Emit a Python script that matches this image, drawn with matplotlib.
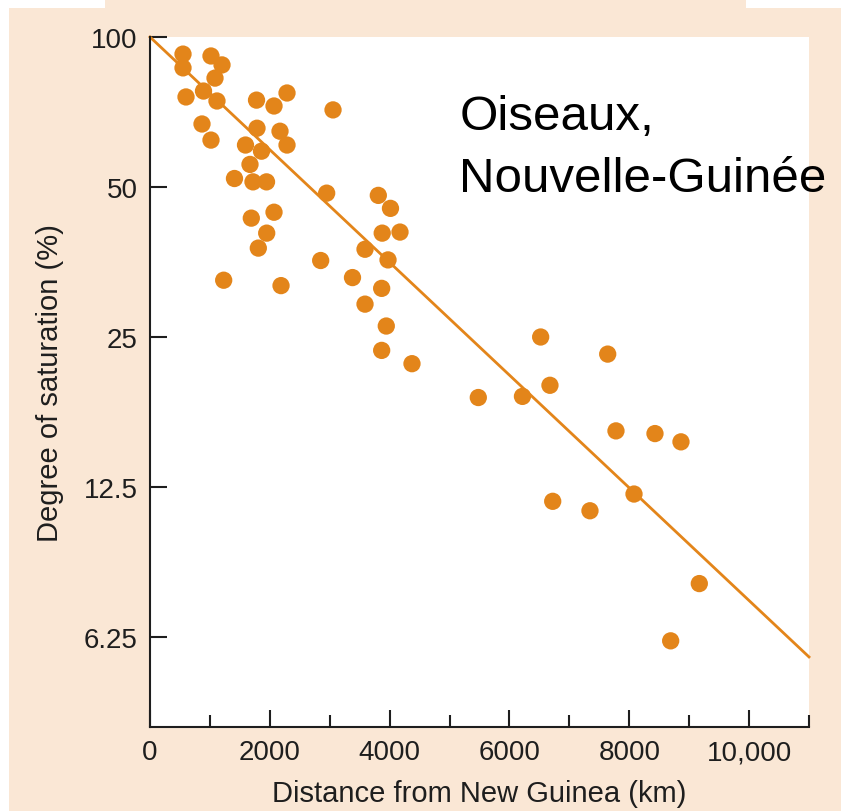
import numpy as np
import matplotlib
matplotlib.use('Agg')
import matplotlib.pyplot as plt
from matplotlib.patches import Rectangle
from matplotlib.ticker import FixedLocator, NullLocator

plt.rcParams['font.family'] = ['Liberation Sans', 'DejaVu Sans']

# distance from New Guinea (km) and degree of saturation (%) for each island
distance = [551, 551, 1018, 1202, 1085, 893, 601, 1118, 1778, 2070,
            2287, 3055, 868, 1018, 1786, 2170, 2287, 1594, 1861, 1669,
            1410, 1719, 1945, 2949, 3811, 4014, 2070, 1691, 1948, 3876,
            4173, 1808, 3589, 3973, 2849, 1230, 2187, 3380, 3867, 3589,
            3944, 3867, 4373, 6521, 7640, 6676, 5480, 6217, 7778, 8429,
            8863, 6722, 7344, 8079, 9169, 8691]
saturation = [92.4, 86.7, 91.6, 87.9, 82.7, 77.9, 75.8, 74.4, 74.7, 72.7,
              77.2, 71.4, 66.9, 62.1, 65.6, 64.7, 60.7, 60.7, 59.0, 55.5,
              52.0, 51.2, 51.2, 48.6, 48.1, 45.3, 44.5, 43.3, 40.4, 40.4,
              40.6, 37.7, 37.5, 35.7, 35.6, 32.5, 31.7, 32.9, 31.3, 29.1,
              26.3, 23.5, 22.1, 25.0, 23.1, 20.0, 18.9, 19.0, 16.2, 16.0,
              15.4, 11.7, 11.2, 12.1, 8.0, 6.14]

# fitted exponential decay, drawn as a straight line on the log axis
fit_x = [0, 11000]
fit_y = [100, 5.7]

yticks = [100, 50, 25, 12.5, 6.25]
ytick_labels = ['100', '50', '25', '12.5', '6.25']
xticks = [0, 2000, 4000, 6000, 8000, 10000]
xtick_labels = ['0', '2000', '4000', '6000', '8000', '10,000']

orange = '#e3851a'
beige = '#fae7d5'
ink = '#1e1e1e'

fig = plt.figure(figsize=(8.5, 8.12), dpi=100, facecolor='white')
W, H = 850.0, 812.0
fig.patches.append(Rectangle((9/W, 0), (841-9)/W, 1-9/H, transform=fig.transFigure,
                             facecolor=beige, edgecolor='none', zorder=-10))
fig.patches.append(Rectangle((105/W, 1-9/H), (746-105)/W, 9/H, transform=fig.transFigure,
                             facecolor=beige, edgecolor='none', zorder=-10))

ax = fig.add_axes([150/W, 1-728/H, (809-150)/W, (728-38)/H])
ax.set_facecolor('white')

ax.plot(fit_x, fit_y, color=orange, lw=2.0, zorder=2, clip_on=False)
ax.scatter(distance, saturation, s=155, color=orange, edgecolors='none', zorder=3,
           clip_on=False)

ax.set_yscale('log')
ax.set_xlim(0, 11000)
ax.set_ylim(100*2**(-690/150), 100)

ax.yaxis.set_major_locator(FixedLocator(yticks))
ax.yaxis.set_minor_locator(NullLocator())
ax.set_yticklabels(ytick_labels)
ax.xaxis.set_major_locator(FixedLocator(xticks))
ax.xaxis.set_minor_locator(FixedLocator([1000, 3000, 5000, 7000, 9000, 11000]))
ax.set_xticklabels(xtick_labels)

for s in ['top', 'right']:
    ax.spines[s].set_visible(False)
for s in ['left', 'bottom']:
    ax.spines[s].set_linewidth(1.5)
    ax.spines[s].set_color(ink)

ax.tick_params(which='major', direction='in', length=12, width=1.5, color=ink,
               labelsize=20, labelcolor=ink)
ax.tick_params(which='minor', direction='in', length=9, width=1.5, color=ink)
ax.tick_params(axis='y', pad=9)
ax.tick_params(axis='x', pad=9)

ax.set_xlabel('Distance from New Guinea (km)', fontsize=21, color=ink, labelpad=10)
ax.set_ylabel('Degree of saturation (%)', fontsize=21, color=ink, labelpad=14)

fig.text(459.5/W, 1-130/H, 'Oiseaux,', fontsize=35.5, color='black', va='baseline')
fig.text(459.5/W, 1-192/H, 'Nouvelle-Guinée', fontsize=35.5, color='black', va='baseline')

plt.savefig('out.png', dpi=100, facecolor=fig.get_facecolor())
